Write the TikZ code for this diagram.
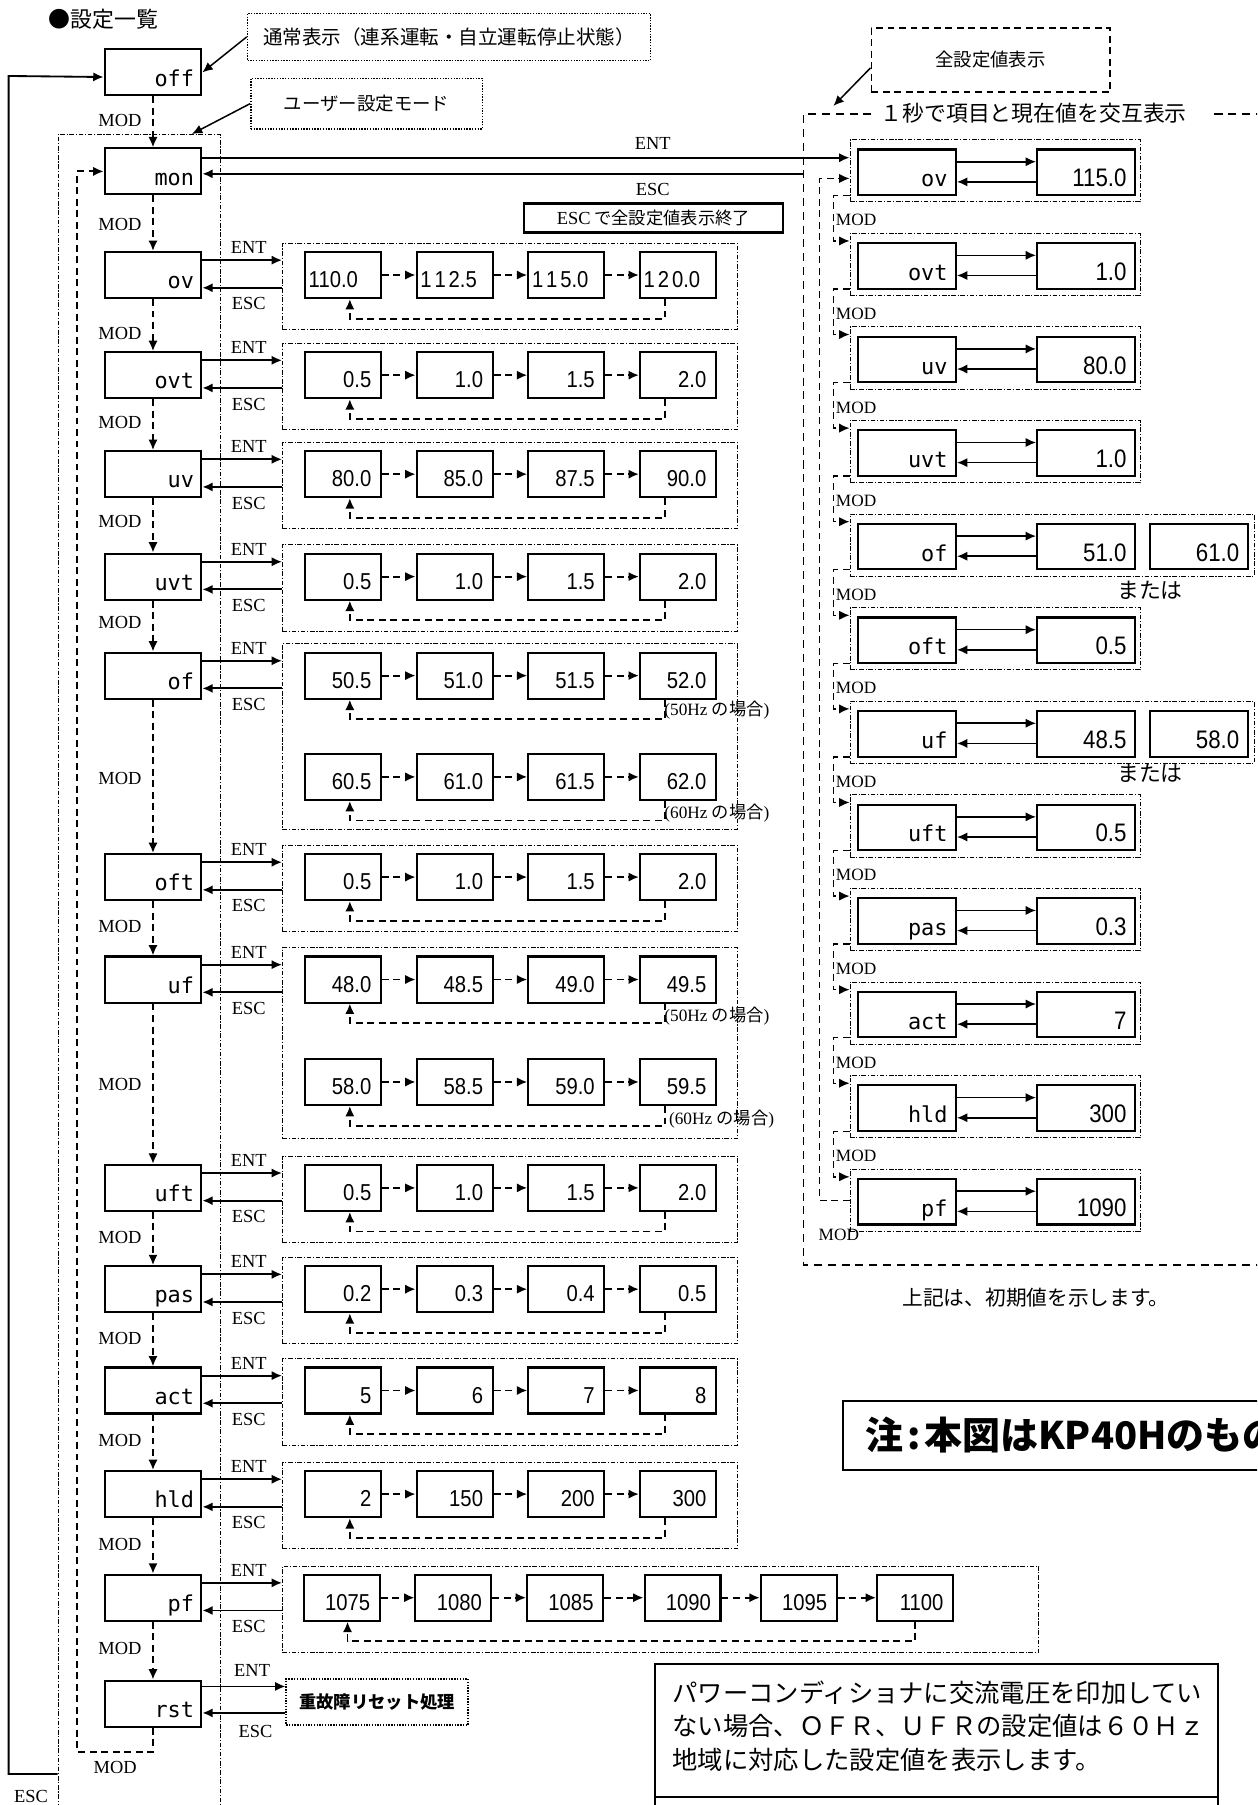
\documentclass[tikz,border=0pt]{standalone}
\usepackage{fontspec}
\usepackage{tikz}
\usetikzlibrary{arrows.meta}

\setmainfont{Liberation Serif}
\newfontfamily\jpfont{Noto Sans CJK JP}
\newfontfamily\codefont{DejaVu Sans Mono}
\newfontfamily\valfont{Liberation Sans}[FakeStretch=0.88]
\newfontfamily\keyfont{Liberation Serif}

\tikzset{
  stbox/.style={draw, line width=1.8pt, minimum width=84pt, minimum height=40pt, inner sep=0pt, anchor=north west},
  valbox/.style={draw, line width=1.8pt, minimum width=66pt, minimum height=40pt, inner sep=0pt, anchor=north west},
  rbox/.style={draw, line width=1.8pt, minimum width=85pt, minimum height=39.5pt, inner sep=0pt, anchor=north west},
  stname/.style={anchor=base east, xshift=-7pt, yshift=9pt, inner sep=0pt, font=\codefont\fontsize{19}{19}\selectfont},
  numr/.style={anchor=base east, xshift=-9pt, yshift=10pt, inner sep=0pt, font=\valfont\fontsize{20}{20}\selectfont},
  numl/.style={anchor=base west, xshift=4pt, yshift=10pt, inner sep=0pt, font=\valfont\fontsize{20}{20}\selectfont},
  rname/.style={anchor=base east, xshift=-8pt, yshift=8pt, inner sep=0pt, font=\codefont\fontsize{19}{19}\selectfont},
  rnum/.style={anchor=base east, xshift=-8pt, yshift=8pt, inner sep=0pt, font=\valfont\fontsize{22}{22}\selectfont},
  panel/.style={draw, line width=.7pt, dash pattern=on 4pt off 1.5pt on 1pt off 1.5pt, minimum width=395pt, minimum height=75pt, inner sep=0pt, anchor=north west},
  rgrp/.style={panel, minimum width=252pt, minimum height=54pt},
  dotbox/.style={draw, line width=1.2pt, dash pattern=on 1.2pt off 1.2pt, inner sep=0pt},
  dashbox/.style={draw, line width=1.6pt, dash pattern=on 6pt off 4pt, inner sep=0pt},
  keylbl/.style={inner sep=0pt, font=\keyfont\fontsize{16}{16}\selectfont},
  rmod/.style={anchor=west, inner sep=0pt, font=\keyfont\fontsize{15}{15}\selectfont},
  jp/.style={inner sep=0pt, font=\jpfont\fontsize{#1}{#1}\selectfont},
  jp/.default=17,
  solarr/.style={->, line width=1.6pt},
  modarr/.style={->, line width=1.6pt, dash pattern=on 6pt off 4pt}
}

\begin{document}
\begin{tikzpicture}[x=1pt, y=-1pt, >={Latex[length=9pt,width=8pt]}]
\useasboundingbox (0,0) rectangle (1092,1568);
\clip (0,0) rectangle (1092,1568);

% titles and notes
\node[jp=19, anchor=west] (title) at (42,17) {●設定一覧};
\node[dotbox, jp=17, minimum width=350pt, minimum height=41pt] (normal) at (390,32) {通常表示（連系運転・自立運転停止状態）};
\node[dotbox, jp=16, minimum width=201pt, minimum height=44pt] (umode) at (318.5,90) {ユーザー設定モード};
\node[panel, minimum width=141pt, minimum height=1500pt] (user) at (50,116.4) {};

% state boxes
\node[stbox, label={[stname]south east:off}] (off) at (90,42) {};
\node[stbox, label={[stname]south east:mon}] (mon) at (90,128) {};
\node[stbox, label={[stname]south east:ov}] (ov) at (90,218) {};
\node[stbox, label={[stname]south east:ovt}] (ovt) at (90,305) {};
\node[stbox, label={[stname]south east:uv}] (uv) at (90,391) {};
\node[stbox, label={[stname]south east:uvt}] (uvt) at (90,480) {};
\node[stbox, label={[stname]south east:of}] (of) at (90,566) {};
\node[stbox, label={[stname]south east:oft}] (oft) at (90,741) {};
\node[stbox, label={[stname]south east:uf}] (uf) at (90,830) {};
\node[stbox, label={[stname]south east:uft}] (uft) at (90,1011) {};
\node[stbox, label={[stname]south east:pas}] (pas) at (90,1099) {};
\node[stbox, label={[stname]south east:act}] (act) at (90,1187) {};
\node[stbox, label={[stname]south east:hld}] (hld) at (90,1277) {};
\node[stbox, label={[stname]south east:pf}] (pf) at (90,1367) {};
\node[stbox, label={[stname]south east:rst}] (rst) at (90,1459) {};

\draw[solarr, line width=1.3pt] (normal.west) -- (off.east);
\draw[solarr, line width=1.3pt] (umode.west) -- ([xshift=-25pt]user.north east);

% MOD steps
\draw[modarr] (off) -- (mon);
\draw[modarr] (mon) -- (ov);
\draw[modarr] (ov) -- (ovt);
\draw[modarr] (ovt) -- (uv);
\draw[modarr] (uv) -- (uvt);
\draw[modarr] (uvt) -- (of);
\draw[modarr] (of) -- (oft);
\draw[modarr] (oft) -- (uf);
\draw[modarr] (uf) -- (uft);
\draw[modarr] (uft) -- (pas);
\draw[modarr] (pas) -- (act);
\draw[modarr] (act) -- (hld);
\draw[modarr] (hld) -- (pf);
\draw[modarr] (pf) -- (rst);
\draw[modarr] (rst.south) -- ++(0,21) -| ([xshift=-23pt]mon.west) -- (mon.west);

\node[keylbl, anchor=east] (mod0) at (123,105) {MOD};
\node[keylbl, anchor=east] (mod1) at (123,195) {MOD};
\node[keylbl, anchor=east] (mod2) at (123,290) {MOD};
\node[keylbl, anchor=east] (mod3) at (123,367) {MOD};
\node[keylbl, anchor=east] (mod4) at (123,453) {MOD};
\node[keylbl, anchor=east] (mod5) at (123,541) {MOD};
\node[keylbl, anchor=east] (mod6) at (123,676) {MOD};
\node[keylbl, anchor=east] (mod7) at (123,805) {MOD};
\node[keylbl, anchor=east] (mod8) at (123,942) {MOD};
\node[keylbl, anchor=east] (mod9) at (123,1075) {MOD};
\node[keylbl, anchor=east] (mod10) at (123,1163) {MOD};
\node[keylbl, anchor=east] (mod11) at (123,1251) {MOD};
\node[keylbl, anchor=east] (mod12) at (123,1342) {MOD};
\node[keylbl, anchor=east] (mod13) at (123,1432) {MOD};
\node[keylbl] (modB) at (100,1535) {MOD};

% ESC back to off
\coordinate (escstart) at (50,1541);
\draw[solarr] (escstart) -- (7.5,1541) -- (7.5,66) -- ([yshift=-4pt]off.west);
\node[keylbl] (escB) at (27,1561) {ESC};

% value panels
\node[panel] (ovP) at (245,211) {};
\node[panel] (ovtP) at (245,298) {};
\node[panel] (uvP) at (245,384) {};
\node[panel] (uvtP) at (245,473) {};
\node[panel, minimum height=161pt] (ofP) at (245,559) {};
\node[panel] (oftP) at (245,734) {};
\node[panel, minimum height=166pt] (ufP) at (245,823) {};
\node[panel] (uftP) at (245,1004) {};
\node[panel] (pasP) at (245,1092) {};
\node[panel] (actP) at (245,1180) {};
\node[panel] (hldP) at (245,1270) {};
\node[panel, minimum width=657pt] (pfP) at (245,1360) {};
\node[dotbox, jp=15, font=\jpfont\bfseries\fontsize{15}{15}\selectfont, minimum width=158pt, minimum height=40pt, anchor=north west] (rstP) at (248,1458) {重故障リセット処理};

% ENT / ESC
\draw[solarr] ([yshift=-8pt]ov.north east) -- ([yshift=-15pt]ovP.north west);
\draw[solarr] ([yshift=-39pt]ovP.north west) -- ([yshift=-32pt]ov.north east);
\draw[solarr] ([yshift=-8pt]ovt.north east) -- ([yshift=-15pt]ovtP.north west);
\draw[solarr] ([yshift=-39pt]ovtP.north west) -- ([yshift=-32pt]ovt.north east);
\draw[solarr] ([yshift=-8pt]uv.north east) -- ([yshift=-15pt]uvP.north west);
\draw[solarr] ([yshift=-39pt]uvP.north west) -- ([yshift=-32pt]uv.north east);
\draw[solarr] ([yshift=-8pt]uvt.north east) -- ([yshift=-15pt]uvtP.north west);
\draw[solarr] ([yshift=-39pt]uvtP.north west) -- ([yshift=-32pt]uvt.north east);
\draw[solarr] ([yshift=-8pt]of.north east) -- ([yshift=-15pt]ofP.north west);
\draw[solarr] ([yshift=-39pt]ofP.north west) -- ([yshift=-32pt]of.north east);
\draw[solarr] ([yshift=-8pt]oft.north east) -- ([yshift=-15pt]oftP.north west);
\draw[solarr] ([yshift=-39pt]oftP.north west) -- ([yshift=-32pt]oft.north east);
\draw[solarr] ([yshift=-8pt]uf.north east) -- ([yshift=-15pt]ufP.north west);
\draw[solarr] ([yshift=-39pt]ufP.north west) -- ([yshift=-32pt]uf.north east);
\draw[solarr] ([yshift=-8pt]uft.north east) -- ([yshift=-15pt]uftP.north west);
\draw[solarr] ([yshift=-39pt]uftP.north west) -- ([yshift=-32pt]uft.north east);
\draw[solarr] ([yshift=-8pt]pas.north east) -- ([yshift=-15pt]pasP.north west);
\draw[solarr] ([yshift=-39pt]pasP.north west) -- ([yshift=-32pt]pas.north east);
\draw[solarr] ([yshift=-8pt]act.north east) -- ([yshift=-15pt]actP.north west);
\draw[solarr] ([yshift=-39pt]actP.north west) -- ([yshift=-32pt]act.north east);
\draw[solarr] ([yshift=-8pt]hld.north east) -- ([yshift=-15pt]hldP.north west);
\draw[solarr] ([yshift=-39pt]hldP.north west) -- ([yshift=-32pt]hld.north east);
\draw[solarr] ([yshift=-8pt]pf.north east) -- ([yshift=-15pt]pfP.north west);
\draw[solarr] ([yshift=-39pt]pfP.north west) -- ([yshift=-32pt]pf.north east);
\draw[solarr] ([yshift=-6pt]rst.north east) -- ([yshift=-7pt]rstP.north west);
\draw[solarr] ([yshift=-30pt]rstP.north west) -- ([yshift=-29pt]rst.north east);

\node[keylbl] (entA) at (216,215) {ENT};
\node[keylbl] (escA) at (216,264) {ESC};
\node[keylbl] (entB) at (216,302) {ENT};
\node[keylbl] (escB2) at (216,351) {ESC};
\node[keylbl] (entC) at (216,388) {ENT};
\node[keylbl] (escC) at (216,437) {ESC};
\node[keylbl] (entD) at (216,477) {ENT};
\node[keylbl] (escD) at (216,526) {ESC};
\node[keylbl] (entE) at (216,563) {ENT};
\node[keylbl] (escE) at (216,612) {ESC};
\node[keylbl] (entF) at (216,738) {ENT};
\node[keylbl] (escF) at (216,787) {ESC};
\node[keylbl] (entG) at (216,827) {ENT};
\node[keylbl] (escG) at (216,876) {ESC};
\node[keylbl] (entH) at (216,1008) {ENT};
\node[keylbl] (escH) at (216,1057) {ESC};
\node[keylbl] (entI) at (216,1096) {ENT};
\node[keylbl] (escI) at (216,1145) {ESC};
\node[keylbl] (entJ) at (216,1184) {ENT};
\node[keylbl] (escJ) at (216,1233) {ESC};
\node[keylbl] (entK) at (216,1274) {ENT};
\node[keylbl] (escK) at (216,1323) {ESC};
\node[keylbl] (entL) at (216,1364) {ENT};
\node[keylbl] (escL) at (216,1413) {ESC};
\node[keylbl] (entM) at (219,1451) {ENT};
\node[keylbl] (escM) at (222,1504) {ESC};

% ov values
\node[valbox, label={[numl]south west:110.0}] (ov1) at (264,218) {};
\node[valbox, label={[numl]south west:1\kern2.5pt 1\kern2.5pt 2.5}] (ov2) at (361,218) {};
\node[valbox, label={[numl]south west:1\kern2.5pt 1\kern2.5pt 5.0}] (ov3) at (458,218) {};
\node[valbox, label={[numl]south west:1\kern2.5pt 2\kern2.5pt 0.0}] (ov4) at (555,218) {};
\draw[modarr] (ov1) -- (ov2);
\draw[modarr] (ov2) -- (ov3);
\draw[modarr] (ov3) -- (ov4);
\draw[modarr] ([xshift=-11pt]ov4.south) -- ++(0,17) -| ([xshift=6pt]ov1.south);

% ovt values
\node[valbox, label={[numr]south east:0.5}] (ovt1) at (264,305) {};
\node[valbox, label={[numr]south east:1.0}] (ovt2) at (361,305) {};
\node[valbox, label={[numr]south east:1.5}] (ovt3) at (458,305) {};
\node[valbox, label={[numr]south east:2.0}] (ovt4) at (555,305) {};
\draw[modarr] (ovt1) -- (ovt2);
\draw[modarr] (ovt2) -- (ovt3);
\draw[modarr] (ovt3) -- (ovt4);
\draw[modarr] ([xshift=-11pt]ovt4.south) -- ++(0,17) -| ([xshift=6pt]ovt1.south);

% uv values
\node[valbox, label={[numr]south east:80.0}] (uv1) at (264,391) {};
\node[valbox, label={[numr]south east:85.0}] (uv2) at (361,391) {};
\node[valbox, label={[numr]south east:87.5}] (uv3) at (458,391) {};
\node[valbox, label={[numr]south east:90.0}] (uv4) at (555,391) {};
\draw[modarr] (uv1) -- (uv2);
\draw[modarr] (uv2) -- (uv3);
\draw[modarr] (uv3) -- (uv4);
\draw[modarr] ([xshift=-11pt]uv4.south) -- ++(0,17) -| ([xshift=6pt]uv1.south);

% uvt values
\node[valbox, label={[numr]south east:0.5}] (uvt1) at (264,480) {};
\node[valbox, label={[numr]south east:1.0}] (uvt2) at (361,480) {};
\node[valbox, label={[numr]south east:1.5}] (uvt3) at (458,480) {};
\node[valbox, label={[numr]south east:2.0}] (uvt4) at (555,480) {};
\draw[modarr] (uvt1) -- (uvt2);
\draw[modarr] (uvt2) -- (uvt3);
\draw[modarr] (uvt3) -- (uvt4);
\draw[modarr] ([xshift=-11pt]uvt4.south) -- ++(0,17) -| ([xshift=6pt]uvt1.south);

% of values
\node[valbox, label={[numr]south east:50.5}] (of1) at (264,566) {};
\node[valbox, label={[numr]south east:51.0}] (of2) at (361,566) {};
\node[valbox, label={[numr]south east:51.5}] (of3) at (458,566) {};
\node[valbox, label={[numr]south east:52.0}] (of4) at (555,566) {};
\draw[modarr] (of1) -- (of2);
\draw[modarr] (of2) -- (of3);
\draw[modarr] (of3) -- (of4);
\draw[modarr] ([xshift=-11pt]of4.south) -- ++(0,17) -| ([xshift=6pt]of1.south);
\node[valbox, label={[numr]south east:60.5}] (of5) at (264,654) {};
\node[valbox, label={[numr]south east:61.0}] (of6) at (361,654) {};
\node[valbox, label={[numr]south east:61.5}] (of7) at (458,654) {};
\node[valbox, label={[numr]south east:62.0}] (of8) at (555,654) {};
\draw[modarr] (of5) -- (of6);
\draw[modarr] (of6) -- (of7);
\draw[modarr] (of7) -- (of8);
\draw[modarr] ([xshift=-11pt]of8.south) -- ++(0,17) -| ([xshift=6pt]of5.south);
\node[keylbl, font=\keyfont\fontsize{15}{15}\selectfont, anchor=west] (hz50a) at (577,617) {(50Hz {\jpfont の場合})};
\node[keylbl, font=\keyfont\fontsize{15}{15}\selectfont, anchor=west] (hz60a) at (577,706) {(60Hz {\jpfont の場合})};

% oft values
\node[valbox, label={[numr]south east:0.5}] (oft1) at (264,741) {};
\node[valbox, label={[numr]south east:1.0}] (oft2) at (361,741) {};
\node[valbox, label={[numr]south east:1.5}] (oft3) at (458,741) {};
\node[valbox, label={[numr]south east:2.0}] (oft4) at (555,741) {};
\draw[modarr] (oft1) -- (oft2);
\draw[modarr] (oft2) -- (oft3);
\draw[modarr] (oft3) -- (oft4);
\draw[modarr] ([xshift=-11pt]oft4.south) -- ++(0,17) -| ([xshift=6pt]oft1.south);

% uf values
\node[valbox, label={[numr]south east:48.0}] (uf1) at (264,830) {};
\node[valbox, label={[numr]south east:48.5}] (uf2) at (361,830) {};
\node[valbox, label={[numr]south east:49.0}] (uf3) at (458,830) {};
\node[valbox, label={[numr]south east:49.5}] (uf4) at (555,830) {};
\draw[modarr] (uf1) -- (uf2);
\draw[modarr] (uf2) -- (uf3);
\draw[modarr] (uf3) -- (uf4);
\draw[modarr] ([xshift=-11pt]uf4.south) -- ++(0,17) -| ([xshift=6pt]uf1.south);
\node[valbox, label={[numr]south east:58.0}] (uf5) at (264,919) {};
\node[valbox, label={[numr]south east:58.5}] (uf6) at (361,919) {};
\node[valbox, label={[numr]south east:59.0}] (uf7) at (458,919) {};
\node[valbox, label={[numr]south east:59.5}] (uf8) at (555,919) {};
\draw[modarr] (uf5) -- (uf6);
\draw[modarr] (uf6) -- (uf7);
\draw[modarr] (uf7) -- (uf8);
\draw[modarr] ([xshift=-11pt]uf8.south) -- ++(0,17) -| ([xshift=6pt]uf5.south);
\node[keylbl, font=\keyfont\fontsize{15}{15}\selectfont, anchor=west] (hz50b) at (577,883) {(50Hz {\jpfont の場合})};
\node[keylbl, font=\keyfont\fontsize{15}{15}\selectfont, anchor=west] (hz60b) at (581,972) {(60Hz {\jpfont の場合})};

% uft values
\node[valbox, label={[numr]south east:0.5}] (uft1) at (264,1011) {};
\node[valbox, label={[numr]south east:1.0}] (uft2) at (361,1011) {};
\node[valbox, label={[numr]south east:1.5}] (uft3) at (458,1011) {};
\node[valbox, label={[numr]south east:2.0}] (uft4) at (555,1011) {};
\draw[modarr] (uft1) -- (uft2);
\draw[modarr] (uft2) -- (uft3);
\draw[modarr] (uft3) -- (uft4);
\draw[modarr] ([xshift=-11pt]uft4.south) -- ++(0,17) -| ([xshift=6pt]uft1.south);

% pas values
\node[valbox, label={[numr]south east:0.2}] (pas1) at (264,1099) {};
\node[valbox, label={[numr]south east:0.3}] (pas2) at (361,1099) {};
\node[valbox, label={[numr]south east:0.4}] (pas3) at (458,1099) {};
\node[valbox, label={[numr]south east:0.5}] (pas4) at (555,1099) {};
\draw[modarr] (pas1) -- (pas2);
\draw[modarr] (pas2) -- (pas3);
\draw[modarr] (pas3) -- (pas4);
\draw[modarr] ([xshift=-11pt]pas4.south) -- ++(0,17) -| ([xshift=6pt]pas1.south);

% act values
\node[valbox, label={[numr]south east:5}] (act1) at (264,1187) {};
\node[valbox, label={[numr]south east:6}] (act2) at (361,1187) {};
\node[valbox, label={[numr]south east:7}] (act3) at (458,1187) {};
\node[valbox, label={[numr]south east:8}] (act4) at (555,1187) {};
\draw[modarr] (act1) -- (act2);
\draw[modarr] (act2) -- (act3);
\draw[modarr] (act3) -- (act4);
\draw[modarr] ([xshift=-11pt]act4.south) -- ++(0,17) -| ([xshift=6pt]act1.south);

% hld values
\node[valbox, label={[numr]south east:2}] (hld1) at (264,1277) {};
\node[valbox, label={[numr]south east:150}] (hld2) at (361,1277) {};
\node[valbox, label={[numr]south east:200}] (hld3) at (458,1277) {};
\node[valbox, label={[numr]south east:300}] (hld4) at (555,1277) {};
\draw[modarr] (hld1) -- (hld2);
\draw[modarr] (hld2) -- (hld3);
\draw[modarr] (hld3) -- (hld4);
\draw[modarr] ([xshift=-11pt]hld4.south) -- ++(0,17) -| ([xshift=6pt]hld1.south);

% pf values
\node[valbox, label={[numr]south east:1075}] (pf1) at (263,1367) {};
\node[valbox, label={[numr]south east:1080}] (pf2) at (360,1367) {};
\node[valbox, label={[numr]south east:1085}] (pf3) at (457,1367) {};
\node[valbox, label={[numr]south east:1090}] (pf4) at (559,1367) {};
\node[valbox, label={[numr]south east:1095}] (pf5) at (660,1367) {};
\node[valbox, label={[numr]south east:1100}] (pf6) at (761,1367) {};
\draw[modarr] (pf1) -- (pf2);
\draw[modarr] (pf2) -- (pf3);
\draw[modarr] (pf3) -- (pf4);
\draw[modarr] (pf4) -- (pf5);
\draw[modarr] (pf5) -- (pf6);
\draw[modarr] (pf6.south) -- ++(0,17) -| ([xshift=5pt]pf1.south);

% all settings display
\node[dashbox, jp=16, minimum width=207pt, minimum height=56pt] (allset) at (860.5,52) {全設定値表示};
\coordinate (alltip) at (724,92);
\draw[solarr, line width=1.3pt] ([yshift=-7pt]allset.west) -- (alltip);
\draw[line width=1.5pt, dash pattern=on 7pt off 5pt] (757,99) -- (698,99) -- (698,1099) -- (1100,1099);
\draw[line width=1.5pt, dash pattern=on 7pt off 5pt] (1055,99) -- (1100,99);
\node[jp=19] (alt) at (898,98) {１秒で項目と現在値を交互表示};

\node[keylbl] (entR) at (567,125) {ENT};
\node[keylbl] (escR) at (567,165) {ESC};
\node[draw, line width=2.2pt, minimum width=225pt, minimum height=25pt, inner sep=0pt, font=\jpfont\fontsize{15}{15}\selectfont] (escnote) at (567.5,189.5) {{\keyfont\fontsize{16}{16}\selectfont ESC} で全設定値表示終了};

% right groups
\node[rgrp] (gov) at (738,121) {};
\node[rbox, label={[rname]south east:ov}] (rov) at (744.5,129) {};
\node[rbox, label={[rnum]south east:115.0}] (vov) at (900,129) {};
\node[rgrp] (govt) at (738,202.3) {};
\node[rbox, label={[rname]south east:ovt}] (rovt) at (744.5,210.3) {};
\node[rbox, label={[rnum]south east:1.0}] (vovt) at (900,210.3) {};
\node[rgrp] (guv) at (738,283.6) {};
\node[rbox, label={[rname]south east:uv}] (ruv) at (744.5,291.6) {};
\node[rbox, label={[rnum]south east:80.0}] (vuv) at (900,291.6) {};
\node[rgrp] (guvt) at (738,364.9) {};
\node[rbox, label={[rname]south east:uvt}] (ruvt) at (744.5,372.9) {};
\node[rbox, label={[rnum]south east:1.0}] (vuvt) at (900,372.9) {};
\node[rgrp, minimum width=351pt] (gof) at (738,446.2) {};
\node[rbox, label={[rname]south east:of}] (rof) at (744.5,454.2) {};
\node[rbox, label={[rnum]south east:51.0}] (vof) at (900,454.2) {};
\node[rbox, label={[rnum]south east:61.0}] (wof) at (998,454.2) {};
\node[rgrp] (goft) at (738,527.5) {};
\node[rbox, label={[rname]south east:oft}] (roft) at (744.5,535.5) {};
\node[rbox, label={[rnum]south east:0.5}] (voft) at (900,535.5) {};
\node[rgrp, minimum width=351pt] (guf) at (738,608.8) {};
\node[rbox, label={[rname]south east:uf}] (ruf) at (744.5,616.8) {};
\node[rbox, label={[rnum]south east:48.5}] (vuf) at (900,616.8) {};
\node[rbox, label={[rnum]south east:58.0}] (wuf) at (998,616.8) {};
\node[rgrp] (guft) at (738,690.1) {};
\node[rbox, label={[rname]south east:uft}] (ruft) at (744.5,698.1) {};
\node[rbox, label={[rnum]south east:0.5}] (vuft) at (900,698.1) {};
\node[rgrp] (gpas) at (738,771.4) {};
\node[rbox, label={[rname]south east:pas}] (rpas) at (744.5,779.4) {};
\node[rbox, label={[rnum]south east:0.3}] (vpas) at (900,779.4) {};
\node[rgrp] (gact) at (738,852.7) {};
\node[rbox, label={[rname]south east:act}] (ract) at (744.5,860.7) {};
\node[rbox, label={[rnum]south east:7}] (vact) at (900,860.7) {};
\node[rgrp] (ghld) at (738,934) {};
\node[rbox, label={[rname]south east:hld}] (rhld) at (744.5,942) {};
\node[rbox, label={[rnum]south east:300}] (vhld) at (900,942) {};
\node[rgrp] (gpf) at (738,1015.3) {};
\node[rbox, label={[rname]south east:pf}] (rpf) at (744.5,1023.3) {};
\node[rbox, label={[rnum]south east:1090}] (vpf) at (900,1023.3) {};

\node[jp=19] (mata1) at (999,513) {または};
\node[jp=19] (mata2) at (999,672) {または};

% item <-> value
\draw[solarr, line width=1.4pt] ([yshift=-11.5pt]rov.north east) -- ([yshift=-11.5pt]vov.north west);
\draw[solarr, line width=1.4pt] ([yshift=-29pt]vov.north west) -- ([yshift=-29pt]rov.north east);
\draw[solarr, line width=1.4pt] ([yshift=-11.5pt]rovt.north east) -- ([yshift=-11.5pt]vovt.north west);
\draw[solarr, line width=1.4pt] ([yshift=-29pt]vovt.north west) -- ([yshift=-29pt]rovt.north east);
\draw[solarr, line width=1.4pt] ([yshift=-11.5pt]ruv.north east) -- ([yshift=-11.5pt]vuv.north west);
\draw[solarr, line width=1.4pt] ([yshift=-29pt]vuv.north west) -- ([yshift=-29pt]ruv.north east);
\draw[solarr, line width=1.4pt] ([yshift=-11.5pt]ruvt.north east) -- ([yshift=-11.5pt]vuvt.north west);
\draw[solarr, line width=1.4pt] ([yshift=-29pt]vuvt.north west) -- ([yshift=-29pt]ruvt.north east);
\draw[solarr, line width=1.4pt] ([yshift=-11.5pt]rof.north east) -- ([yshift=-11.5pt]vof.north west);
\draw[solarr, line width=1.4pt] ([yshift=-29pt]vof.north west) -- ([yshift=-29pt]rof.north east);
\draw[solarr, line width=1.4pt] ([yshift=-11.5pt]roft.north east) -- ([yshift=-11.5pt]voft.north west);
\draw[solarr, line width=1.4pt] ([yshift=-29pt]voft.north west) -- ([yshift=-29pt]roft.north east);
\draw[solarr, line width=1.4pt] ([yshift=-11.5pt]ruf.north east) -- ([yshift=-11.5pt]vuf.north west);
\draw[solarr, line width=1.4pt] ([yshift=-29pt]vuf.north west) -- ([yshift=-29pt]ruf.north east);
\draw[solarr, line width=1.4pt] ([yshift=-11.5pt]ruft.north east) -- ([yshift=-11.5pt]vuft.north west);
\draw[solarr, line width=1.4pt] ([yshift=-29pt]vuft.north west) -- ([yshift=-29pt]ruft.north east);
\draw[solarr, line width=1.4pt] ([yshift=-11.5pt]rpas.north east) -- ([yshift=-11.5pt]vpas.north west);
\draw[solarr, line width=1.4pt] ([yshift=-29pt]vpas.north west) -- ([yshift=-29pt]rpas.north east);
\draw[solarr, line width=1.4pt] ([yshift=-11.5pt]ract.north east) -- ([yshift=-11.5pt]vact.north west);
\draw[solarr, line width=1.4pt] ([yshift=-29pt]vact.north west) -- ([yshift=-29pt]ract.north east);
\draw[solarr, line width=1.4pt] ([yshift=-11.5pt]rhld.north east) -- ([yshift=-11.5pt]vhld.north west);
\draw[solarr, line width=1.4pt] ([yshift=-29pt]vhld.north west) -- ([yshift=-29pt]rhld.north east);
\draw[solarr, line width=1.4pt] ([yshift=-11.5pt]rpf.north east) -- ([yshift=-11.5pt]vpf.north west);
\draw[solarr, line width=1.4pt] ([yshift=-29pt]vpf.north west) -- ([yshift=-29pt]rpf.north east);

% mon <-> all settings
\draw[solarr] ([yshift=-9pt]mon.north east) -- ([yshift=-16pt]gov.north west);
\coordinate (escR0) at (698,151);
\draw[solarr] (escR0) -- ([yshift=-23pt]mon.north east);

% MOD steps on the right
\draw[modarr, line width=1.2pt] ([yshift=6pt]gov.south west) -- ++(-14,0) |- ([yshift=-7pt]govt.north west);
\draw[modarr, line width=1.2pt] ([yshift=6pt]govt.south west) -- ++(-14,0) |- ([yshift=-7pt]guv.north west);
\draw[modarr, line width=1.2pt] ([yshift=6pt]guv.south west) -- ++(-14,0) |- ([yshift=-7pt]guvt.north west);
\draw[modarr, line width=1.2pt] ([yshift=6pt]guvt.south west) -- ++(-14,0) |- ([yshift=-7pt]gof.north west);
\draw[modarr, line width=1.2pt] ([yshift=6pt]gof.south west) -- ++(-14,0) |- ([yshift=-7pt]goft.north west);
\draw[modarr, line width=1.2pt] ([yshift=6pt]goft.south west) -- ++(-14,0) |- ([yshift=-7pt]guf.north west);
\draw[modarr, line width=1.2pt] ([yshift=6pt]guf.south west) -- ++(-14,0) |- ([yshift=-7pt]guft.north west);
\draw[modarr, line width=1.2pt] ([yshift=6pt]guft.south west) -- ++(-14,0) |- ([yshift=-7pt]gpas.north west);
\draw[modarr, line width=1.2pt] ([yshift=6pt]gpas.south west) -- ++(-14,0) |- ([yshift=-7pt]gact.north west);
\draw[modarr, line width=1.2pt] ([yshift=6pt]gact.south west) -- ++(-14,0) |- ([yshift=-7pt]ghld.north west);
\draw[modarr, line width=1.2pt] ([yshift=6pt]ghld.south west) -- ++(-14,0) |- ([yshift=-7pt]gpf.north west);
\draw[modarr, line width=1.2pt] (gpf.west) -- ++(-26,0) |- ([yshift=-34pt]gov.north west);

\node[rmod] (rmod1) at (726,191.3) {MOD};
\node[rmod] (rmod2) at (726,272.6) {MOD};
\node[rmod] (rmod3) at (726,353.9) {MOD};
\node[rmod] (rmod4) at (726,435.2) {MOD};
\node[rmod] (rmod5) at (726,516.5) {MOD};
\node[rmod] (rmod6) at (726,597.8) {MOD};
\node[rmod] (rmod7) at (726,679.1) {MOD};
\node[rmod] (rmod8) at (726,760.4) {MOD};
\node[rmod] (rmod9) at (726,841.7) {MOD};
\node[rmod] (rmod10) at (726,923) {MOD};
\node[rmod] (rmod11) at (726,1004.3) {MOD};
\node[rmod] (rmod12) at (711,1073) {MOD};

\node[jp=18] (shoki) at (900,1127) {上記は、初期値を示します。};

% notes at the bottom right
\node[draw, line width=1.5pt, minimum width=450pt, minimum height=60pt, inner sep=0pt, anchor=north west] (chubox) at (731.5,1216) {};
\node[anchor=west, inner sep=0pt, font=\jpfont\bfseries\fontsize{33}{33}\selectfont] (chu) at (752,1247) {注\kern3pt:\kern3pt本図はKP40Hのもの};
\node[draw, line width=1.5pt, minimum width=489pt, minimum height=200pt, inner sep=0pt, anchor=north west] (memo) at (568,1445) {};
\draw[line width=1.5pt] ([yshift=-116pt]memo.north west) -- ([yshift=-116pt]memo.north east);
\node[anchor=north west, align=left, inner sep=0pt, font=\jpfont\fontsize{22}{29}\selectfont] (memotxt) at (584,1460) {パワーコンディショナに交流電圧を印加してい\\ない場合、ＯＦＲ、ＵＦＲの設定値は６０Ｈｚ\\地域に対応した設定値を表示します。};

\end{tikzpicture}
\end{document}
